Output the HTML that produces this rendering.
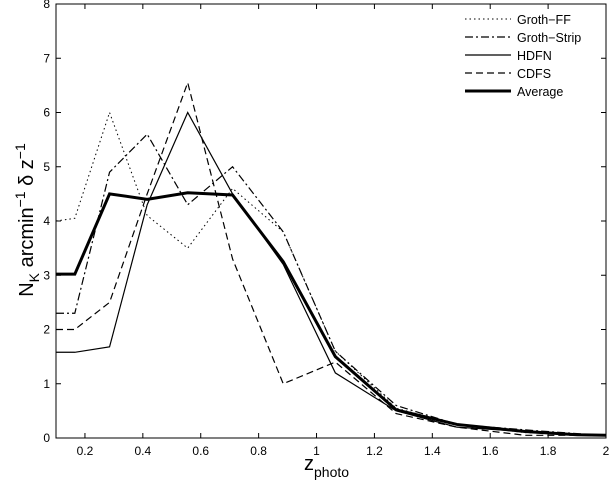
<!DOCTYPE html>
<html><head><meta charset="utf-8"><style>
body{margin:0;background:#fff}
svg{display:block;font-family:"Liberation Sans",sans-serif}
</style></head><body>
<svg id="c" width="611" height="489"></svg>
<script>
const xs=[0.1,0.165,0.285,0.415,0.555,0.71,0.885,1.065,1.275,1.485,1.72,1.9,2.0];
const grothFF=[4.0,4.05,6.0,4.1,3.5,4.6,3.8,1.6,0.55,0.25,0.1,0.07,0.05];
const grothStrip=[2.3,2.3,4.9,5.6,4.3,5.0,3.8,1.6,0.6,0.25,0.15,0.08,0.05];
const hdfn=[1.58,1.58,1.68,4.3,6.0,4.5,3.2,1.2,0.5,0.2,0.12,0.05,0.04];
const cdfs=[2.0,2.0,2.5,4.5,6.55,3.3,1.0,1.4,0.45,0.2,0.05,0.05,0.05];
const average=[3.02,3.02,4.5,4.4,4.52,4.48,3.25,1.5,0.52,0.25,0.12,0.06,0.05];
const xTicks=[0.2,0.4,0.6,0.8,1,1.2,1.4,1.6,1.8,2];
const yTicks=[0,1,2,3,4,5,6,7,8];
const L=56,R=606,T=4,B=438,X0=0.1,X1=2,Y0=0,Y1=8;
const sx=v=>L+(v-X0)/(X1-X0)*(R-L), sy=v=>B-(v-Y0)/(Y1-Y0)*(B-T);
const svg=document.getElementById('c'),NS='http://www.w3.org/2000/svg';
function mk(t,a,p){const e=document.createElementNS(NS,t);for(const k in a)e.setAttribute(k,a[k]);(p||svg).appendChild(e);return e;}
const frame=mk('rect',{x:L,y:T,width:R-L,height:B-T,fill:'none',stroke:'#000','stroke-width':1});


xTicks.forEach(v=>{const x=sx(v);
mk('line',{x1:x,x2:x,y1:B,y2:B-5,stroke:'#000'});mk('line',{x1:x,x2:x,y1:T,y2:T+5,stroke:'#000'});
const t=mk('text',{x:x,y:B+17,'text-anchor':'middle','font-size':12});t.textContent=String(v);

});
yTicks.forEach(v=>{const y=sy(v);
mk('line',{x1:L,x2:L+5,y1:y,y2:y,stroke:'#000'});mk('line',{x1:R,x2:R-5,y1:y,y2:y,stroke:'#000'});
const t=mk('text',{x:L-6,y:y+4,'text-anchor':'end','font-size':12});t.textContent=String(v);

});
const series=[
 {n:'Groth\u2212FF',d:grothFF,w:1,dash:'1.5,3',id:'groth-ff'},
 {n:'Groth\u2212Strip',d:grothStrip,w:1.2,dash:'8,3,2,3',id:'groth-strip'},
 {n:'HDFN',d:hdfn,w:1.2,dash:'',id:'hdfn'},
 {n:'CDFS',d:cdfs,w:1.2,dash:'7,4',id:'cdfs'},
 {n:'Average',d:average,w:3,dash:'',id:'average'}];
series.forEach((s,i)=>{
 const pts=s.d.map((v,j)=>sx(xs[j])+','+sy(v)).join(' ');
 const p=mk('polyline',{points:pts,fill:'none',stroke:'#000','stroke-width':s.w,'stroke-dasharray':s.dash});
 
 
 const ly=19+i*18;
 const ll=mk('line',{x1:465,x2:511,y1:ly,y2:ly,stroke:'#000','stroke-width':s.w,'stroke-dasharray':s.dash});
 
 
 const t=mk('text',{x:517,y:ly+5,'font-size':12.5});t.textContent=s.n;
 
 
});
const xl=mk('text',{x:304,y:470,'font-size':20});
xl.innerHTML='z<tspan font-size="14" dy="7">photo</tspan>';


const yl=mk('text',{x:0,y:0,'font-size':20,transform:'translate(33,220) rotate(-90)','text-anchor':'middle'});
yl.innerHTML='N<tspan font-size="14" dy="6">K</tspan><tspan dy="-6"> arcmin</tspan><tspan font-size="14" dy="-8">\u22121</tspan><tspan dy="8"> \u03B4 z</tspan><tspan font-size="14" dy="-8">\u22121</tspan>';


</script>
</body></html>
